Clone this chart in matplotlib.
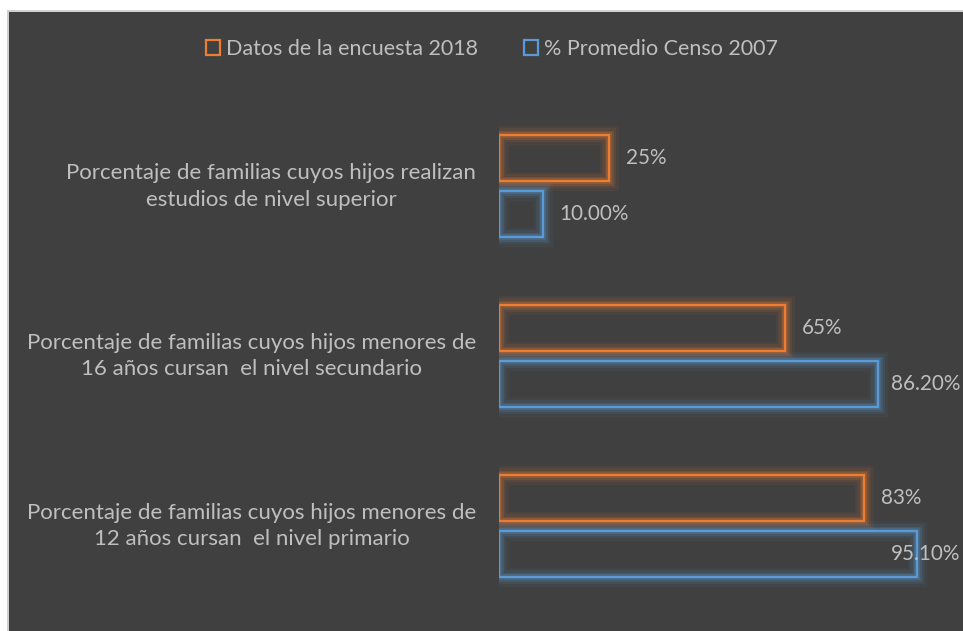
import matplotlib
matplotlib.use("Agg")
import matplotlib.pyplot as plt
import matplotlib.patheffects as pe
from matplotlib.patches import Rectangle, Patch

# datos (de abajo hacia arriba)
categorias = [
    "Porcentaje de familias cuyos hijos menores de\n12 años cursan  el nivel primario",
    "Porcentaje de familias cuyos hijos menores de\n16 años cursan  el nivel secundario",
    "Porcentaje de familias cuyos hijos realizan\nestudios de nivel superior",
]
encuesta_2018 = [83, 65, 25]
censo_2007 = [95.1, 86.2, 10.0]
etiq_2018 = ["83%", "65%", "25%"]
etiq_2007 = ["95.10%", "86.20%", "10.00%"]

naranja = "#ED7D31"
azul = "#5B9BD5"
fondo = "#404040"
texto = "#BFBFBF"

plt.rcParams['font.family'] = ['Lato', 'DejaVu Sans']

W, H = 963, 631
fig = plt.figure(figsize=(W / 100, H / 100), dpi=100, facecolor="white")

# marco gris oscuro
fig.patches.append(Rectangle((7 / W, 0), 1, (H - 10) / H, transform=fig.transFigure,
                             facecolor="#D0D0D0", edgecolor="none", zorder=-3))
fig.patches.append(Rectangle((9 / W, 0), 1, (H - 12) / H, transform=fig.transFigure,
                             facecolor=fondo, edgecolor="none", zorder=-2))

ax = fig.add_axes([499 / W, 19 / H, 439.5 / W, 512 / H])
ax.set_facecolor("none")
ax.set_xlim(0, 100)
ax.set_ylim(-0.506, 2.509)
ax.axis("off")

y = list(range(len(categorias)))
alto = 46 / 170
desp = 28 / 170
fs_cat = 16
fs_val = 14.9
fs_leg = 15.5


def glow(color):
    return [pe.Stroke(linewidth=14, foreground=color, alpha=0.06),
            pe.Stroke(linewidth=10, foreground=color, alpha=0.10),
            pe.Stroke(linewidth=6.5, foreground=color, alpha=0.16),
            pe.Stroke(linewidth=4, foreground=color, alpha=0.25),
            pe.Normal()]


b1 = ax.barh([v + desp for v in y], encuesta_2018, height=alto, fill=False,
             edgecolor=naranja, linewidth=1.6)
b2 = ax.barh([v - desp for v in y], censo_2007, height=alto, fill=False,
             edgecolor=azul, linewidth=1.6)
for b in b1:
    b.set_path_effects(glow(naranja))
for b in b2:
    b.set_path_effects(glow(azul))

borde = 104.9  # limite derecho para etiquetas (px 960)
for i in y:
    ax.text(encuesta_2018[i] + 4, i + desp, etiq_2018[i], color=texto,
            fontsize=fs_val, va="center", ha="left")
    if censo_2007[i] > 80:
        ax.text(borde, i - desp, etiq_2007[i], color=texto,
                fontsize=fs_val, va="center", ha="right")
    else:
        ax.text(censo_2007[i] + 3.7, i - desp, etiq_2007[i], color=texto,
                fontsize=fs_val, va="center", ha="left")
    ax.text(-5.2, i, categorias[i], color=texto, fontsize=fs_cat,
            va="center", ha="right", multialignment="center", linespacing=1.39)

leg = fig.legend(handles=[Patch(facecolor="none", edgecolor=naranja, linewidth=1.6,
                                label="Datos de la encuesta 2018"),
                          Patch(facecolor="none", edgecolor=azul, linewidth=1.6,
                                label="% Promedio Censo 2007")],
                 loc="center", bbox_to_anchor=(492 / W, 1 - 49 / H), ncol=2, frameon=False,
                 fontsize=fs_leg, handlelength=0.65, handleheight=0.65, handletextpad=0.28,
                 columnspacing=2.1, labelcolor=texto)

fig.savefig("out.png", dpi=100, facecolor="white")
